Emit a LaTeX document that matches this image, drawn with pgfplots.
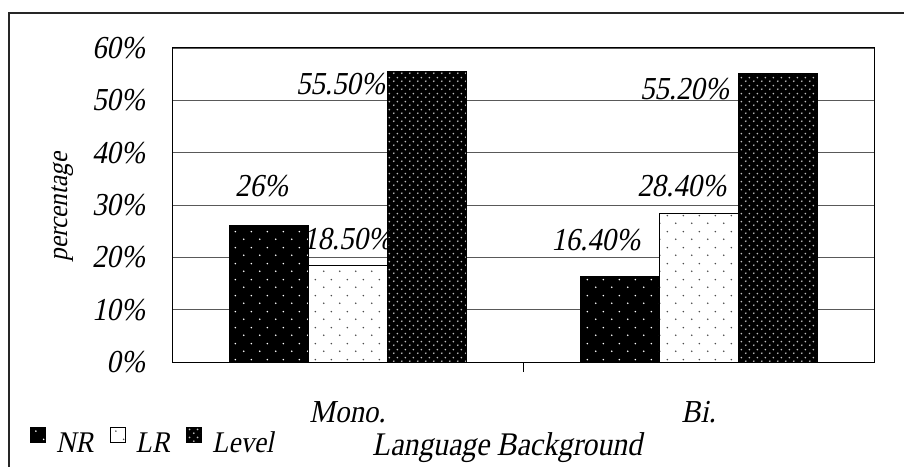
\documentclass[border=0pt]{standalone}
\usepackage{fontspec}
\setmainfont{Liberation Serif}[FakeSlant=0.2, FakeStretch=0.9]
\usepackage{pgfplots}
\pgfplotsset{compat=1.18}
\usetikzlibrary{patterns.meta}

\tikzdeclarepattern{name=sparsedots, type=uncolored,
  bottom left={(0pt,0pt)}, top right={(16pt,16pt)}, tile size={(16pt,16pt)},
  code={\fill (4pt,4pt) circle (0.9pt); \fill (12pt,12pt) circle (0.9pt);}}
\tikzdeclarepattern{name=densedots, type=uncolored,
  bottom left={(0pt,0pt)}, top right={(8pt,8pt)}, tile size={(8pt,8pt)},
  code={\fill (2pt,2pt) circle (1.05pt); \fill (6pt,6pt) circle (1.05pt);}}

\newcommand\ticfont{\fontsize{32}{34}\selectfont}
\newcommand\legfont{\fontsize{30}{32}\selectfont}
\newcommand\ylabfont{\fontsize{28}{30}\selectfont}
\newcommand\labfont{\fontsize{32}{34}\selectfont}
\newcommand\titfont{\fontsize{33}{35}\selectfont}

\pgfplotstableread{
x y
0 26
1 16.4
}\nrdata
\pgfplotstableread{
x y
0 18.5
1 28.4
}\lrdata
\pgfplotstableread{
x y
0 55.5
1 55.2
}\leveldata

\begin{document}
\begin{tikzpicture}
\useasboundingbox (0,0) rectangle (904pt,466pt);
\draw[line width=1.2pt, black!85] (9pt,-2pt) -- (9pt,453pt) -- (906pt,453pt);
\begin{axis}[
  at={(172pt,104pt)}, anchor=south west, scale only axis,
  width=702pt, height=314pt,
  ybar=0pt, bar width=79pt,
  xmin=-0.5, xmax=1.5, ymin=0, ymax=60,
  xtick={0,1}, xticklabels={Mono.,Bi.},
  minor xtick={0.5},
  major tick length=0pt, minor tick length=10pt,
  tick pos=left,
  tick style={black, line width=0.6pt},
  ytick={0,10,20,30,40,50,60},
  yticklabels={0\%,10\%,20\%,30\%,40\%,50\%,60\%},
  ymajorgrids, major grid style={black!65, line width=0.8pt},
  axis line style={black, line width=1pt},
  yticklabel style={anchor=east, inner sep=0pt, xshift=-27pt, font=\ticfont},
  xticklabel style={anchor=base, inner sep=0pt, yshift=-60pt, font=\ticfont},
  legend style={at={(axis description cs:-0.2023,-0.2540)}, anchor=west,
    draw=none, fill=none, inner sep=0pt, legend columns=3, font=\legfont,
    /tikz/every odd column/.append style={column sep=8pt},
    /tikz/every even column/.append style={column sep=14pt}},
  legend image code/.code={\draw[#1, line width=1pt] (0pt,0pt) rectangle (15pt,15pt);},
]
\addplot[draw=black, line width=1pt, fill=black, postaction={pattern=sparsedots, pattern color=white}] table[x=x,y=y] {\nrdata};
\addplot[draw=black, line width=1pt, fill=white, postaction={pattern=sparsedots, pattern color=black!70}] table[x=x,y=y] {\lrdata};
\addplot[draw=black, line width=1pt, fill=black, postaction={pattern=densedots, pattern color=white!75!black}] table[x=x,y=y] {\leveldata};
\legend{NR,LR,Level}
\node[font=\labfont] at (axis cs:-0.245,33.6) {26\%};
\node[font=\labfont] at (axis cs:0,23.5) {18.50\%};
\node[font=\labfont] at (axis cs:-0.02,53.2) {55.50\%};
\node[font=\labfont] at (axis cs:0.707,23.3) {16.40\%};
\node[font=\labfont] at (axis cs:0.952,33.6) {28.40\%};
\node[font=\labfont] at (axis cs:0.96,52.1) {55.20\%};
\end{axis}
\node[anchor=base, font=\titfont] at (507pt,11pt) {Language Background};
\node[rotate=90, font=\ylabfont] at (63pt,259pt) {percentage};
\end{tikzpicture}
\end{document}
